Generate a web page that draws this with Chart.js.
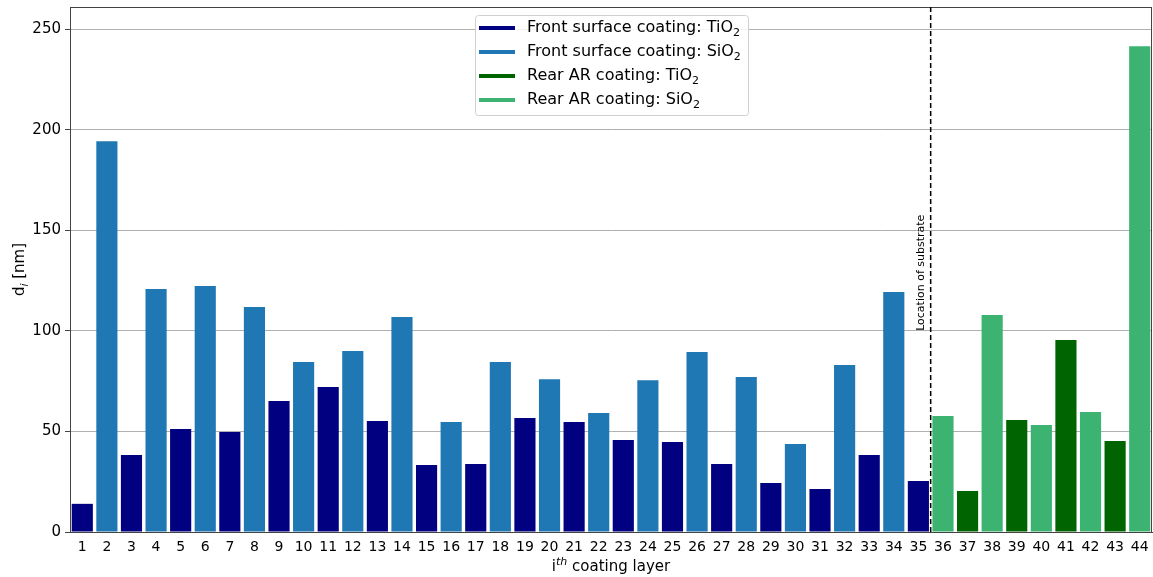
<!DOCTYPE html>
<html>
<head>
<meta charset="utf-8">
<script src="https://cdn.jsdelivr.net/npm/chart.js@4.4.0/dist/chart.umd.min.js"></script>
<style>
  html, body { margin: 0; padding: 0; background: #fff; }
  #wrap { width: 1153px; height: 577px; }
</style>
</head>
<body>
<div id="wrap"><canvas id="chart"></canvas></div>
<script>
// layer numbers 1..44
const layers = ['1','2','3','4','5','6','7','8','9','10','11','12','13','14','15','16','17','18','19','20','21','22',
  '23','24','25','26','27','28','29','30','31','32','33','34','35','36','37','38','39','40','41','42','43','44'];

// thickness of each layer in nm
const thickness = [14, 194.3, 38.3, 120.8, 51.2, 122.3, 49.7, 111.8, 65.1, 84.5, 72.1, 90, 55.2, 106.9, 33.3,
  54.7, 33.8, 84.5, 56.7, 76, 54.7, 59.1, 45.7, 75.5, 44.7, 89.5, 33.8, 77, 24.4, 43.7, 21.4, 83, 38.3, 119.3, 25.3,
  57.7, 20.4, 107.9, 55.7, 53.2, 95.4, 59.6, 45.2, 241.5];

// y tick values
const yTicks = [0, 50, 100, 150, 200, 250];

// material group of each layer
const groups = [];
for (let i = 1; i <= 44; i++) {
  if (i <= 35) groups.push(i % 2 === 1 ? 'frontTi' : 'frontSi');
  else groups.push(i % 2 === 0 ? 'rearSi' : 'rearTi');
}

const legendLabels = ['Front surface coating: TiO', 'Front surface coating: SiO', 'Rear AR coating: TiO', 'Rear AR coating: SiO'];
const groupKeys = ['frontTi', 'frontSi', 'rearTi', 'rearSi'];
const groupColors = { frontTi: '#000080', frontSi: '#1f77b4', rearTi: '#006400', rearSi: '#3cb371' };

const FONT = '"DejaVu Sans", sans-serif';

// frame, substrate marker, legend and axis titles
const decor = {
  id: 'decor',
  afterDraw(chart) {
    const ctx = chart.ctx;
    const a = chart.chartArea;
    const x = chart.scales.x;
    const y = chart.scales.y;
    ctx.save();

    // spines
    ctx.strokeStyle = '#444';
    ctx.lineWidth = 1;
    ctx.strokeRect(a.left + 0.5, a.top + 0.5, a.right - a.left - 1, a.bottom - a.top);

    // substrate line between 35 and 36
    const sx = (x.getPixelForValue(34) + x.getPixelForValue(35)) / 2;
    ctx.strokeStyle = '#000';
    ctx.lineWidth = 1.5;
    ctx.setLineDash([5, 3]);
    ctx.beginPath();
    ctx.moveTo(sx, a.top);
    ctx.lineTo(sx, a.bottom);
    ctx.stroke();
    ctx.setLineDash([]);

    ctx.fillStyle = '#000';
    ctx.font = '11px ' + FONT;
    ctx.translate(sx - 4, y.getPixelForValue(100));
    ctx.rotate(-Math.PI / 2);
    ctx.textAlign = 'left';
    ctx.textBaseline = 'bottom';
    ctx.fillText('Location of substrate', 0, 0);
    ctx.setTransform(1, 0, 0, 1, 0, 0);

    // legend box
    const lx = 475, ly = 15, lw = 273, lh = 100;
    ctx.fillStyle = 'rgba(255,255,255,0.85)';
    ctx.strokeStyle = '#d0d0d0';
    ctx.lineWidth = 1;
    ctx.beginPath();
    ctx.roundRect(lx + 0.5, ly + 0.5, lw, lh, 3);
    ctx.fill();
    ctx.stroke();
    ctx.textBaseline = 'middle';
    ctx.textAlign = 'left';
    groupKeys.forEach((k, i) => {
      const ry = 28 + i * 24;
      ctx.strokeStyle = groupColors[k];
      ctx.lineWidth = 4;
      ctx.beginPath();
      ctx.moveTo(479, ry);
      ctx.lineTo(515, ry);
      ctx.stroke();
      ctx.fillStyle = '#000';
      ctx.font = '16px ' + FONT;
      ctx.fillText(legendLabels[i], 527, ry);
      const w = ctx.measureText(legendLabels[i]).width;
      ctx.font = '11px ' + FONT;
      ctx.fillText('2', 527 + w, ry + 5);
    });

    // y title: d_i [nm]
    ctx.fillStyle = '#000';
    ctx.translate(24, (a.top + a.bottom) / 2);
    ctx.rotate(-Math.PI / 2);
    ctx.textBaseline = 'alphabetic';
    ctx.font = '15px ' + FONT;
    const dW = ctx.measureText('d').width;
    ctx.font = 'italic 11px ' + FONT;
    const iW = ctx.measureText('i').width;
    ctx.font = '15px ' + FONT;
    const restW = ctx.measureText(' [nm]').width;
    let tx = -(dW + iW + restW) / 2;
    ctx.textAlign = 'left';
    ctx.fillText('d', tx, 0);
    ctx.font = 'italic 11px ' + FONT;
    ctx.fillText('i', tx + dW, 4);
    ctx.font = '15px ' + FONT;
    ctx.fillText(' [nm]', tx + dW + iW, 0);
    ctx.setTransform(1, 0, 0, 1, 0, 0);

    // x title: i^th coating layer
    const cx = (a.left + a.right) / 2;
    ctx.font = '15px ' + FONT;
    const i1 = ctx.measureText('i').width;
    ctx.font = 'italic 11px ' + FONT;
    const thW = ctx.measureText('th').width;
    ctx.font = '15px ' + FONT;
    const rest2 = ctx.measureText(' coating layer').width;
    tx = cx - (i1 + thW + rest2) / 2;
    const by = 571;
    ctx.fillText('i', tx, by);
    ctx.font = 'italic 11px ' + FONT;
    ctx.fillText('th', tx + i1, by - 6);
    ctx.font = '15px ' + FONT;
    ctx.fillText(' coating layer', tx + i1 + thW, by);

    ctx.restore();
  }
};

new Chart(document.getElementById('chart'), {
  type: 'bar',
  data: {
    labels: layers,
    datasets: [{
      data: thickness,
      backgroundColor: groups.map(g => groupColors[g]),
      borderWidth: 0,
      barPercentage: 0.86,
      categoryPercentage: 1.0
    }]
  },
  options: {
    responsive: true,
    maintainAspectRatio: false,
    animation: false,
    layout: { padding: { top: 7, right: 1, left: 0, bottom: 0 } },
    plugins: {
      legend: { display: false },
      tooltip: { enabled: false }
    },
    scales: {
      x: {
        offset: true,
        grid: { display: false, drawOnChartArea: false, drawTicks: true, tickLength: 5, tickColor: '#444', offset: false },
        border: { color: '#444' },
        ticks: { color: '#000', font: { family: FONT, size: 14 }, maxRotation: 0, autoSkip: false, padding: 2 },
        afterFit: s => { s.height = 45; }
      },
      y: {
        min: 0,
        max: 261,
        grid: { color: '#b0b0b0', tickLength: 5, tickColor: '#444' },
        border: { color: '#444' },
        ticks: { color: '#000', font: { family: FONT, size: 15 }, padding: 4 },
        afterBuildTicks: s => { s.ticks = yTicks.map(v => ({ value: v })); },
        afterFit: s => { s.width = 70; s.paddingTop = 0; }
      }
    }
  },
  plugins: [decor]
});
</script>
</body>
</html>
